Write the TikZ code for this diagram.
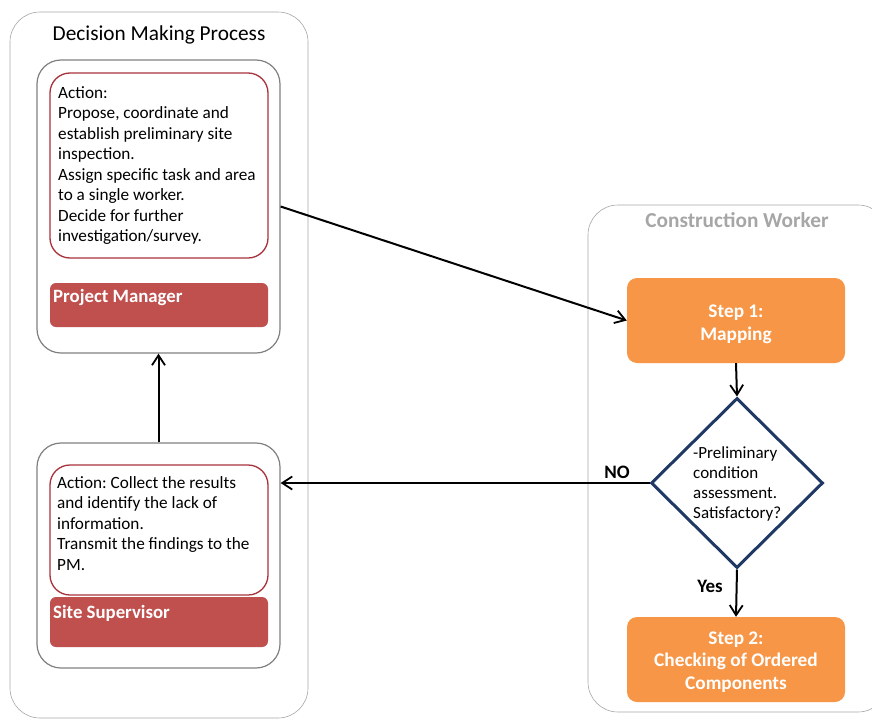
\documentclass[tikz,border=0pt]{standalone}
\usepackage{fontspec}
\setmainfont{Carlito}
\frenchspacing
\usetikzlibrary{arrows.meta,shapes.geometric}
\definecolor{boxgray}{HTML}{7F7F7F}
\definecolor{contgray}{HTML}{A6A6A6}
\definecolor{actred}{HTML}{A8323A}
\definecolor{barred}{HTML}{C0504D}
\definecolor{steporange}{HTML}{F79646}
\definecolor{navy}{HTML}{1F3864}
\begin{document}
\begin{tikzpicture}[x=1pt,y=-1pt,
  container/.style={draw=contgray, line width=0.6pt, rounded corners=30pt, inner sep=0pt},
  roleout/.style={draw=boxgray, line width=1.2pt, rounded corners=24pt, minimum width=243pt, inner sep=0pt},
  actbox/.style={draw=actred, line width=1.3pt, rounded corners=20pt, minimum width=218pt, inner sep=0pt},
  rolebar/.style={fill=barred, rounded corners=6pt, minimum width=218pt, inner sep=0pt},
  bodytext/.style={font=\fontsize{17.2}{20.5}\selectfont, align=left, inner sep=0pt, anchor=base west},
  bartext/.style={font=\fontsize{18.8}{22}\selectfont\bfseries, text=white, inner sep=0pt, anchor=base west},
  stepbox/.style={fill=steporange, rounded corners=10pt, minimum width=218pt, minimum height=85pt, inner sep=0pt},
  steptext/.style={text=white, font=\fontsize{19.3}{22.5}\selectfont\bfseries, align=center, inner sep=0pt, anchor=base},
  arr/.style={-{Straight Barb[length=10pt,width=13pt,line width=1.8pt]}, line width=2pt, black},
  lbl/.style={font=\fontsize{19}{22}\selectfont\bfseries, inner sep=0pt, anchor=base}
]
\useasboundingbox (0,0) rectangle (872,720);
\clip (0,0) rectangle (872,720);

% containers
\node[container, minimum width=298pt, minimum height=706pt] (leftc) at (159,365) {};
\node[font=\fontsize{21.3}{24}\selectfont, inner sep=0pt, anchor=base] (lefttitle) at (159,40) {Decision Making Process};
\node[container, minimum width=300pt, minimum height=507pt] (rightc) at (738,458.5) {};
\node[font=\fontsize{21.3}{24}\selectfont\bfseries, text=contgray, inner sep=0pt, anchor=base] (righttitle) at (737,227) {Construction Worker};

% Project Manager
\node[roleout, minimum height=293pt] (pmout) at (158.5,206.5) {};
\node[actbox, minimum height=185pt] (pmact) at (159,165.5) {};
\node[bodytext] (pmtext) at (58,241.5) {Action:\\Propose, coordinate and\\establish preliminary site\\inspection.\\Assign specific task and area\\to a single worker.\\Decide for further\\investigation/survey.};
\node[rolebar, minimum height=44pt] (pmbar) at (159,305) {};
\node[bartext] (pmlabel) at (53,302) {Project Manager};

% Site Supervisor
\node[roleout, minimum height=225pt] (ssout) at (158.5,555.5) {};
\node[actbox, minimum height=130pt] (ssact) at (159,530) {};
\node[bodytext] (sstext) at (57,570) {Action: Collect the results\\and identify the lack of\\information.\\Transmit the findings to the\\PM.};
\node[rolebar, minimum height=50pt] (ssbar) at (159,622) {};
\node[bartext] (sslabel) at (53,618) {Site Supervisor};

% Construction worker flow
\node[stepbox] (step1) at (736,320.5) {};
\node[steptext] (step1text) at (736,340) {Step 1:\\Mapping};
\node[draw=navy, line width=3pt, diamond, minimum width=172pt, minimum height=170pt, inner sep=0pt] (dia) at (737,483) {};
\node[bodytext, font=\fontsize{17}{20}\selectfont] (diatext) at (693,518) {-Preliminary\\condition\\assessment.\\Satisfactory?};
\node[stepbox] (step2) at (736,659.5) {};
\node[steptext] (step2text) at (736,689) {Step 2:\\Checking of Ordered\\Components};

% connectors
\draw[arr] (pmout.east) -- (step1.west);
\draw[arr] (ssout.north) -- (pmout.south);
\draw[arr] (step1.south) -- (dia.north);
\draw[arr] (dia.south) -- (step2.north);
\draw[arr] (dia.west) -- (dia.west -| ssout.east);
\node[lbl] (nolbl) at (617,478) {NO};
\node[lbl] (yeslbl) at (710,592) {Yes};
\end{tikzpicture}
\end{document}
